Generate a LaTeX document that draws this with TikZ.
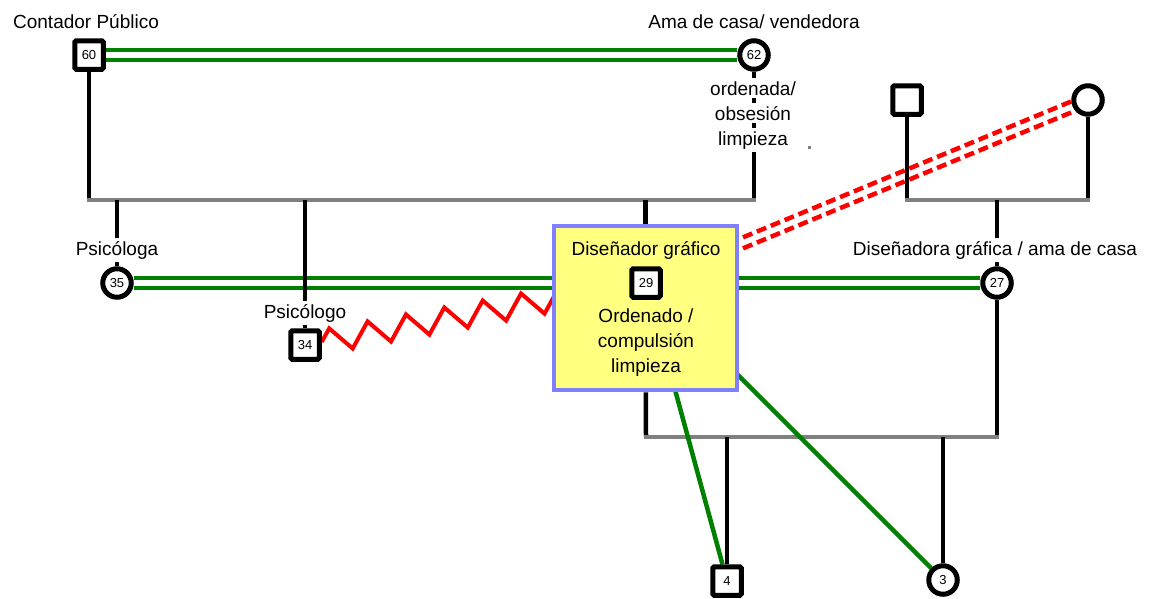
\documentclass[tikz,border=0pt]{standalone}
\usepackage{fontspec}
\setmainfont{Liberation Sans}
\usetikzlibrary{backgrounds,decorations.pathmorphing}
\definecolor{kinGreen}{RGB}{0,128,0}
\definecolor{kinGray}{RGB}{128,128,128}
\definecolor{boxFill}{RGB}{255,255,128}
\definecolor{boxLine}{RGB}{128,128,255}
\newcommand{\lbl}{\fontsize{19}{22}\selectfont}
\newcommand{\agefont}{\fontsize{13}{15}\selectfont}
\tikzset{
  male/.style={draw, line width=5pt, fill=white, minimum size=28.5pt, inner sep=0pt, rounded corners=1.5pt, font=\agefont},
  female/.style={circle, draw, line width=5pt, fill=white, minimum size=28.5pt, inner sep=0pt, font=\agefont},
  txt/.style={font=\lbl, anchor=base, inner sep=1.5pt},
  txtw/.style={txt, fill=white, inner ysep=3pt},
  descent/.style={line width=4.5pt},
  sibbar/.style={draw=kinGray, line width=4.5pt, line cap=rect},
  married/.style={draw=kinGreen, double=white, line width=4.5pt, double distance=5.5pt},
  bond/.style={draw=kinGreen, line width=4.5pt},
  hostile/.style={draw=red, line width=4pt, decorate, decoration={zigzag, segment length=39pt, amplitude=12pt}},
  distant/.style={draw=red, line width=4.5pt, dash pattern=on 10pt off 5pt},
  focus/.style={draw=boxLine, fill=boxFill, line width=4.5pt, minimum width=183pt, minimum height=164pt, inner sep=0pt}
}

\begin{document}
\begin{tikzpicture}[x=1pt,y=-1pt]
				\useasboundingbox (0,0) rectangle (1155,598);
				
				% persons
				\node[male] (p60) at (89,55) {60};
				\node[female] (p62) at (754,55) {62};
				\node[male] (pgf) at (907,100) {};
				\node[female] (pgm) at (1088,100) {};
				\node[female] (p35) at (117,283) {35};
				\node[male] (p34) at (305,345) {34};
				\node[focus] (box) at (645.5,308) {};
				\node[male] (p29) at (646,283) {29};
				\node[female] (p27) at (997,283) {27};
				\node[male] (p4) at (727,581) {4};
				\node[female] (p3) at (943,580) {3};
				
				% texts
				\node[txtw] (tCont) at (86,28) {Contador Público};
				\node[txtw] (tAma) at (754,28) {Ama de casa/ vendedora};
				\node[txtw] (tOrdA) at (753,95) {ordenada/};
				\node[txtw] (tOrdB) at (753,120) {obsesión};
				\node[txtw] (tOrdC) at (753,145) {limpieza};
				\node[txtw] (tPsia) at (117,255) {Psicóloga};
				\node[txtw] (tPsio) at (305,318) {Psicólogo};
				\node[txt] (tDis) at (646,255) {Diseñador gráfico};
				\node[txt] (tCompA) at (646,322) {Ordenado /};
				\node[txt] (tCompB) at (646,347) {compulsión};
				\node[txt] (tCompC) at (646,372) {limpieza};
				\node[txtw] (tDisa) at (995,255) {Diseñadora gráfica / ama de casa};
				\fill[kinGray] (808,146) rectangle (810.5,148.5);
				
				% bar ends
				\coordinate (b1l) at (89,200);
				\coordinate (b1r) at (754,200);
				\coordinate (b2l) at (907,200);
				\coordinate (b2r) at (1088,200);
				\coordinate (b3l) at (646,437);
				\coordinate (b3r) at (997,437);
				
				\begin{pgfonlayer}{background}
				\draw[married] (p60) -- (p62);
				\draw[married] (p35) -- (p27);
				
				\draw[descent] (p60) -- (b1l);
				\draw[descent] (p62) -- (b1r);
				\draw[sibbar] (b1l) -- (b1r);
				\draw[descent] (p35 |- b1l) -- (p35);
				\draw[descent] (p34 |- b1l) -- (p34);
				\draw[descent] (box |- b1l) -- (box);
				
				\draw[descent] (pgf) -- (b2l);
				\draw[descent] (pgm) -- (b2r);
				\draw[sibbar] (b2l) -- (b2r);
				\draw[descent] (p27 |- b2l) -- (p27);
				
				\draw[descent] (box) -- (b3l);
				\draw[descent] (p27) -- (b3r);
				\draw[sibbar] (b3l) -- (b3r);
				\draw[descent] (p4 |- b3l) -- (p4);
				\draw[descent] (p3 |- b3l) -- (p3);
				
				\draw[bond] (p29) -- (p4);
				\draw[bond] (p29) -- (p3);
				
				\draw[distant] ([yshift=5.5pt]p29.center) -- ([yshift=5.5pt]pgm.center);
				\draw[distant] ([yshift=-5.5pt]p29.center) -- ([yshift=-5.5pt]pgm.center);
				\draw[hostile] (p34) -- (p29);
				\end{pgfonlayer}
			\end{tikzpicture}
\end{document}
